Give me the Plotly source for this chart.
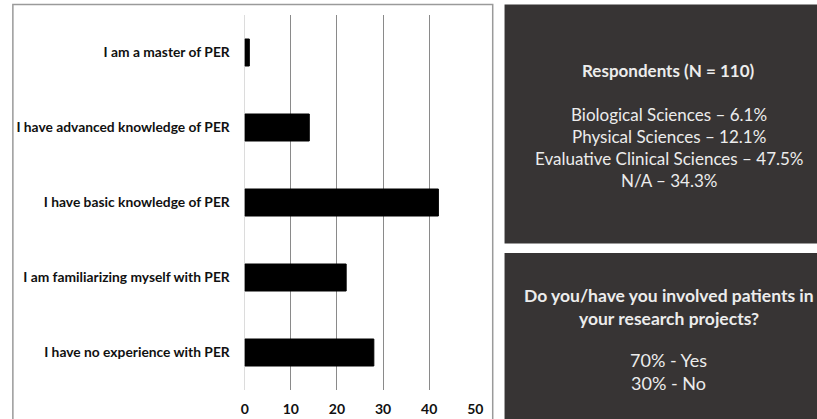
import plotly.graph_objects as go

# Self-assessed knowledge of patient engagement in research (PER)
categories = [
    "I have no experience with PER",
    "I am familiarizing myself with PER",
    "I have basic knowledge of PER",
    "I have advanced knowledge of PER",
    "I am a master of PER",
]
counts = [28, 22, 42, 14, 1]
x_ticks = [0, 10, 20, 30, 40, 50]

respondents_title = "Respondents (N = 110)"
respondent_groups = ["Biological Sciences", "Physical Sciences",
                     "Evaluative Clinical Sciences", "N/A"]
respondent_shares = ["6.1%", "12.1%", "47.5%", "34.3%"]

involvement_question = ["Do you/have you involved patients in",
                        "your research projects?"]
involvement_answers = ["70% - Yes", "30% - No"]

W, H = 817, 419
FONT = "Lato"
PANEL = "#373434"
PANEL_TEXT = "#ececec"


def px(x):
    return x / W


def py(y):
    return 1 - y / H


fig = go.Figure(go.Bar(
    x=counts, y=categories, orientation="h",
    marker=dict(color="#000000", line=dict(color="#000000", width=1)),
    width=0.36,
))

fig.update_layout(
    width=W, height=H,
    margin=dict(l=0, r=0, t=0, b=0),
    paper_bgcolor="white", plot_bgcolor="white",
    showlegend=False,
    font=dict(family=FONT, color="#111111"),
    xaxis=dict(
        domain=[px(244.3), px(478.3)], range=[0, 50],
        tickvals=x_ticks, ticktext=[f"<b>{t}</b>" for t in x_ticks],
        tickfont=dict(size=14, color="#111111"),
        showgrid=True, gridcolor="#8a8a8a", gridwidth=1,
        zeroline=True, zerolinecolor="#dcdcdc", zerolinewidth=1,
        showline=False, ticks="", ticklabelstandoff=9,
        fixedrange=True,
    ),
    yaxis=dict(
        domain=[py(390), py(15)], range=[-0.5, 4.5],
        tickvals=categories,
        ticktext=[f"<b>{c}</b>" for c in categories],
        tickfont=dict(size=13.8, color="#111111"),
        showgrid=False, zeroline=False, showline=False, ticks="",
        ticklabelstandoff=14, fixedrange=True,
    ),
)

shapes = [
    # frame around the bar chart
    dict(type="rect", xref="paper", yref="paper",
         x0=px(9), x1=px(496), y0=-0.1, y1=py(4.5),
         line=dict(color="#9a9a9a", width=1.5), fillcolor="rgba(0,0,0,0)",
         layer="below"),
    # dark information panels
    dict(type="rect", xref="paper", yref="paper",
         x0=px(508), x1=1.01, y0=py(243.5), y1=py(4.5),
         line=dict(width=0), fillcolor=PANEL),
    dict(type="rect", xref="paper", yref="paper",
         x0=px(508), x1=1.01, y0=-0.05, y1=py(253),
         line=dict(width=0), fillcolor=PANEL),
]
fig.update_layout(shapes=shapes)

cx = px(674.5)
annotations = []


def panel_line(text, y, bold=False, size=17):
    annotations.append(dict(
        text=f"<b>{text}</b>" if bold else text,
        xref="paper", yref="paper", x=cx, y=py(y),
        xanchor="center", yanchor="middle", showarrow=False,
        font=dict(family=FONT, size=size, color=PANEL_TEXT),
    ))


panel_line(respondents_title, 70, bold=True, size=17)
for i, (g, s) in enumerate(zip(respondent_groups, respondent_shares)):
    panel_line(f"{g} \u2013 {s}", 114 + 22 * i, size=17)

for i, q in enumerate(involvement_question):
    panel_line(q, 295 + 23 * i, bold=True, size=17.5)
for i, a in enumerate(involvement_answers):
    panel_line(a, 360 + 23 * i, size=18)

fig.update_layout(annotations=annotations)

fig.write_html("out.html")
